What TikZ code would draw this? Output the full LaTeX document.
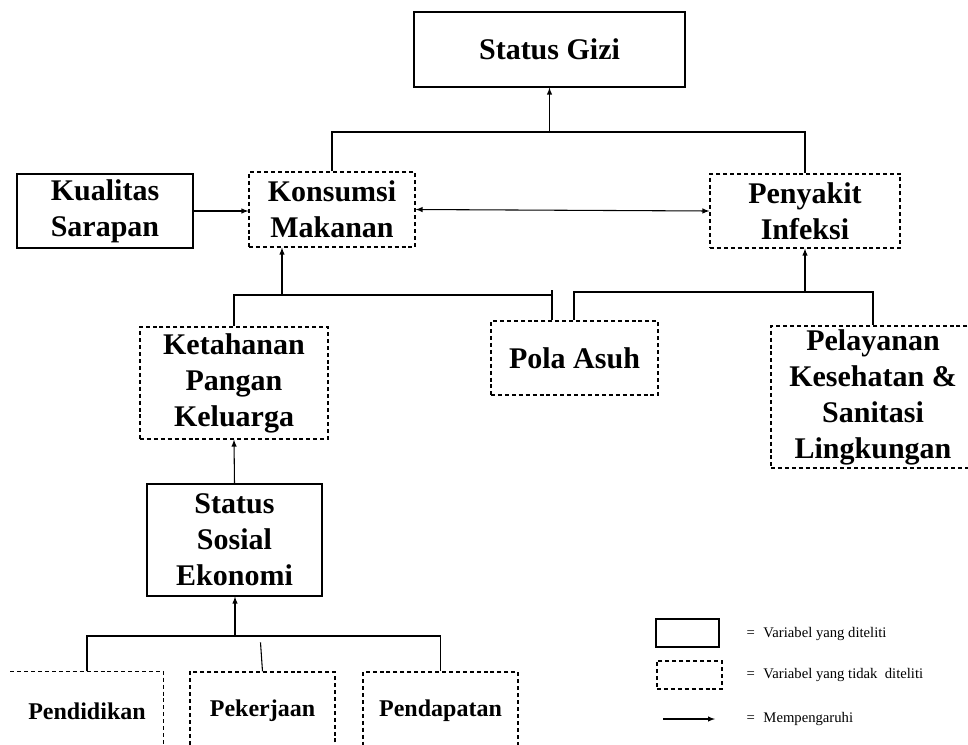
\documentclass[tikz,border=0pt]{standalone}
\usepackage{fontspec}
\setmainfont{Liberation Serif}
\usetikzlibrary{arrows}

\begin{document}
\begin{tikzpicture}[x=.75pt,y=-.75pt,line width=.8pt,>=latex,
	var/.style={draw,line width=.9pt,align=center,inner sep=2pt,font=\bfseries\fontsize{22.5}{27}\selectfont},
	vartidak/.style={var,dash pattern=on 3pt off 2.2pt},
	indikator/.style={font=\bfseries\fontsize{18}{22}\selectfont},
	ket/.style={anchor=west,inner sep=0pt,font=\fontsize{11}{13}\selectfont}]
	\useasboundingbox (0,0) rectangle (968,744);
	
	\node[var,minimum width=203.25pt,minimum height=56.25pt] (gizi) at (549.5,49.5) {Status Gizi};
	\node[var,minimum width=132pt,minimum height=55.5pt] (kualitas) at (105,211) {Kualitas\\Sarapan};
	\node[vartidak,minimum width=124.5pt,minimum height=56.25pt] (konsumsi) at (332,209.5) {Konsumsi\\Makanan};
	\node[vartidak,minimum width=142.5pt,minimum height=55.5pt] (penyakit) at (805,211) {Penyakit\\Infeksi};
	\node[vartidak,minimum width=141pt,minimum height=84pt] (ketahanan) at (234,383) {Ketahanan\\Pangan\\Keluarga};
	\node[vartidak,minimum width=125.25pt,minimum height=55.5pt] (pola) at (574.5,358) {Pola Asuh};
	\node[vartidak,minimum width=153pt,minimum height=106.5pt] (pelayanan) at (873,397) {Pelayanan\\Kesehatan \&\\Sanitasi\\Lingkungan};
	\node[var,minimum width=131.25pt,minimum height=84pt] (sosial) at (234.5,540) {Status\\Sosial\\Ekonomi};
	\node[var,indikator,draw=none,minimum width=114pt,minimum height=58.5pt] (pendidikan) at (87,711) {Pendidikan};
	\node[vartidak,indikator,minimum width=108.75pt,minimum height=58.5pt] (pekerjaan) at (262.5,711) {Pekerjaan};
	\node[vartidak,indikator,minimum width=116.25pt,minimum height=58.5pt] (pendapatan) at (440.5,711) {Pendapatan};
	\draw[line width=.9pt,dash pattern=on 3pt off 2.2pt] (pendidikan.north west) -- (pendidikan.north east) -- (pendidikan.south east);
	
	\coordinate (atas) at (549,132);
	\draw (konsumsi.north) |- (atas) -| (penyakit.north);
	\draw[->] (gizi.south |- atas) -- (gizi.south);
	\draw[->] (kualitas.east) -- (kualitas.east -| konsumsi.west);
	\draw[<->] (konsumsi.east) -- (penyakit.west);
	
	\coordinate (pa) at (552,295);
	\coordinate (pk) at (282,295);
	\draw (ketahanan.north) |- (pa) -- (pa |- pola.north);
	\draw (pa) -- ++(0,-5);
	\draw[->] (pk) -- (pk |- konsumsi.south);
	
	\coordinate (pb) at (574,292);
	\draw (pb |- pola.north) -- (pb) -| (pelayanan.north);
	\draw[->] (penyakit.south |- pb) -- (penyakit.south);
	
	\draw[->] (sosial.north) -- (ketahanan.south);
	\coordinate (pc) at (235,636);
	\draw (pendidikan.north) |- (pc) -| (pendapatan.north);
	\draw[->] (pc) -- (pc |- sosial.south);
	\draw (pekerjaan.north) -- ++(-2,-29);
	
	% keterangan
	\node[var,minimum width=47.25pt,minimum height=21pt] (lgditeliti) at (687.5,633) {};
	\node[vartidak,minimum width=48.75pt,minimum height=21pt] (lgtidak) at (689.5,675) {};
	\coordinate (lgpanah) at (663,719);
	\draw[->] (lgpanah) -- ++(52,0);
	\node[ket] (kditeliti) at (746,634) {=\hspace{6.5pt}Variabel yang diteliti};
	\node[ket] (ktidak) at (746,675) {=\hspace{6.5pt}Variabel yang tidak\ \ diteliti};
	\node[ket] (kpanah) at (746,719) {=\hspace{6.5pt}Mempengaruhi};
\end{tikzpicture}
\end{document}
